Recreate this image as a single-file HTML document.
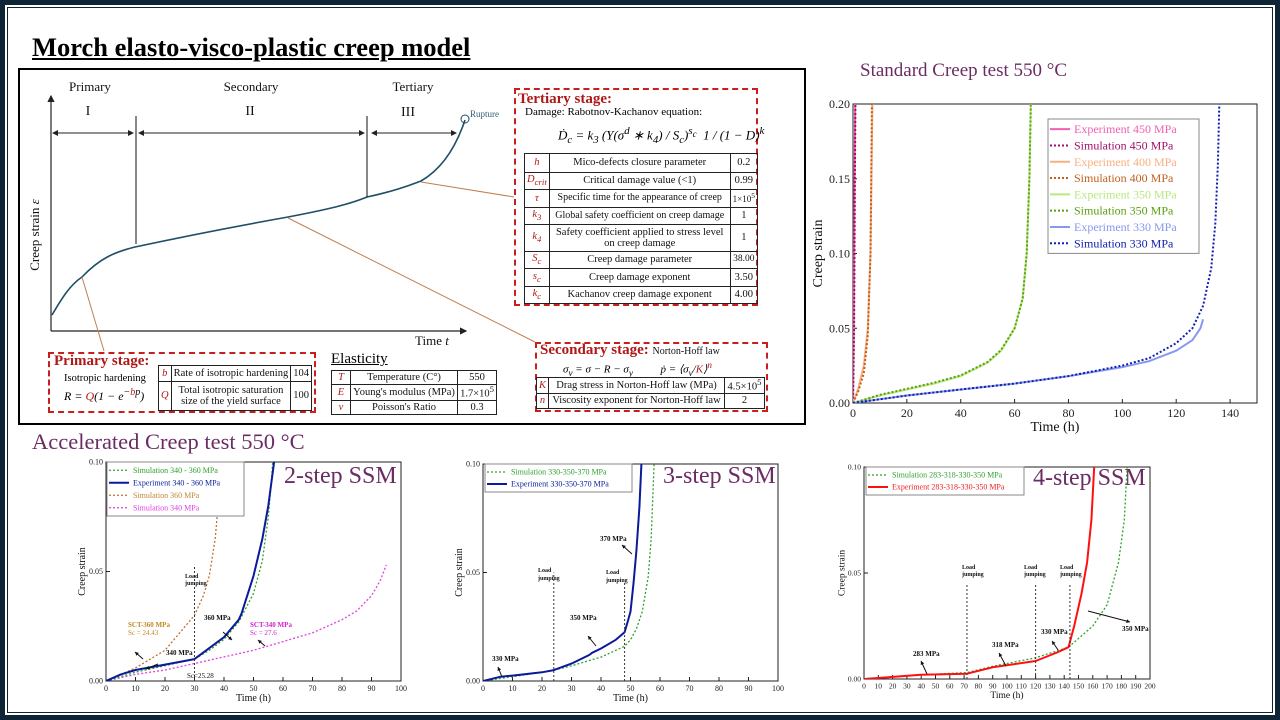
<!DOCTYPE html>
<html><head><meta charset="utf-8">
<style>
*{margin:0;padding:0;box-sizing:border-box}
body{width:1280px;height:720px;overflow:hidden;background:#fff;font-family:"Liberation Serif",serif;position:relative}
.abs{position:absolute}
table{border-collapse:collapse;font-family:"Liberation Serif",serif;font-size:10.5px;color:#111}
td{border:1px solid #222;text-align:center;padding:0 2px;line-height:1.05}
td.s{color:#b01818;font-style:italic}
.dash{border:2.5px dashed #c81e1e}
.rt{color:#b01818;font-weight:bold;font-size:15px}
.ptitle{color:#6b2c63;font-size:19px}
.ssm{color:#6b2c63;font-size:24px}
</style></head>
<body>
<div class="abs" style="left:0;top:0;width:1280px;height:720px;border:5px solid #0d2535"></div>
<div class="abs" style="left:7px;top:7px;width:1266px;height:706px;border:1px solid #0d2535"></div>

<div class="abs" style="left:32px;top:32px;font-size:26.5px;font-weight:bold;text-decoration:underline;color:#000">Morch elasto-visco-plastic creep model</div>
<div class="abs" style="left:18px;top:68px;width:788px;height:357px;border:2px solid #000"></div>

<svg class="abs" style="left:0;top:0" width="1280" height="720">
 <defs><marker id="ah" markerWidth="6" markerHeight="6" refX="5" refY="3" orient="auto"><path d="M0,0L6,3L0,6z" fill="#222"/></marker>
 <marker id="ahs" markerWidth="6" markerHeight="6" refX="1" refY="3" orient="auto"><path d="M6,0L0,3L6,6z" fill="#222"/></marker></defs>
 <g font-family="Liberation Serif" fill="#111">
  <line x1="51" y1="331" x2="51" y2="96" stroke="#222" stroke-width="1.2" marker-end="url(#ah)"/>
  <line x1="51" y1="331" x2="466" y2="331" stroke="#222" stroke-width="1.2" marker-end="url(#ah)"/>
  <path d="M52,315 C62,298 70,285 82,277 C100,258 115,252 135,247 C200,233 260,222 288,217 C330,209 350,204 367,197 C400,190 415,183 421,181 C440,170 455,150 465,120" fill="none" stroke="#1f4e66" stroke-width="1.6"/>
  <circle cx="465" cy="119" r="4" fill="none" stroke="#1f4e66"/>
  <text x="470" y="117" font-size="9" fill="#2f5f75">Rupture</text>
  <line x1="136" y1="116" x2="136" y2="244" stroke="#111"/>
  <line x1="367" y1="116" x2="367" y2="197" stroke="#111"/>
  <line x1="53" y1="133" x2="133" y2="133" stroke="#222" marker-end="url(#ah)" marker-start="url(#ahs)"/>
  <line x1="139" y1="133" x2="364" y2="133" stroke="#222" marker-end="url(#ah)" marker-start="url(#ahs)"/>
  <line x1="372" y1="133" x2="456" y2="133" stroke="#222" marker-end="url(#ah)" marker-start="url(#ahs)"/>
  <text x="90" y="91" font-size="13" text-anchor="middle">Primary</text>
  <text x="88" y="115" font-size="14" text-anchor="middle">I</text>
  <text x="251" y="91" font-size="13" text-anchor="middle">Secondary</text>
  <text x="250" y="115" font-size="14" text-anchor="middle">II</text>
  <text x="413" y="91" font-size="13" text-anchor="middle">Tertiary</text>
  <text x="408" y="116" font-size="14" text-anchor="middle">III</text>
  <text transform="translate(39,235) rotate(-90)" font-size="13" text-anchor="middle">Creep strain <tspan font-style="italic">ε</tspan></text>
  <text x="415" y="345" font-size="13">Time <tspan font-style="italic">t</tspan></text>
  <line x1="82" y1="277" x2="104" y2="351" stroke="#c08050"/>
  <line x1="288" y1="218" x2="535" y2="342" stroke="#c08050"/>
  <line x1="421" y1="182" x2="514" y2="197" stroke="#c08050"/>
 </g>
</svg>

<!-- Tertiary box -->
<div class="abs dash" style="left:514px;top:88px;width:244px;height:218px"></div>
<div class="abs rt" style="left:518px;top:91px">Tertiary stage:</div>
<div class="abs" style="left:525px;top:106px;font-size:11px">Damage: Rabotnov-Kachanov equation:</div>
<div class="abs" style="left:558px;top:125px;font-size:13px;font-style:italic">Ḋ<sub>c</sub> = k<sub>3</sub> (Y(σ<sup>d</sup> ∗ k<sub>4</sub>) / S<sub>c</sub>)<sup>s<sub>c</sub></sup> &nbsp;1 / (1 − D)<sup>k</sup></div>
<table class="abs" style="left:524px;top:153px;width:234px">
<tr style="height:19px"><td class="s" style="width:22px">h</td><td>Mico-defects closure parameter</td><td style="width:23px">0.2</td></tr>
<tr style="height:17px"><td class="s">D<sub>crit</sub></td><td>Critical damage value (&lt;1)</td><td>0.99</td></tr>
<tr style="height:18px"><td class="s">τ</td><td style="font-size:10px">Specific time for the appearance of creep</td><td style="font-size:9px">1×10<sup>5</sup></td></tr>
<tr style="height:17px"><td class="s">k<sub>3</sub></td><td style="font-size:10px">Global safety coefficient on creep damage</td><td>1</td></tr>
<tr style="height:27px"><td class="s">k<sub>4</sub></td><td>Safety coefficient applied to stress level on creep damage</td><td>1</td></tr>
<tr style="height:17px"><td class="s">S<sub>c</sub></td><td>Creep damage parameter</td><td style="font-size:9.5px">38.00</td></tr>
<tr style="height:18px"><td class="s">s<sub>c</sub></td><td>Creep damage exponent</td><td>3.50</td></tr>
<tr style="height:17px"><td class="s">k<sub>c</sub></td><td>Kachanov creep damage exponent</td><td>4.00</td></tr>
</table>

<!-- Primary box -->
<div class="abs dash" style="left:48px;top:352px;width:268px;height:61px"></div>
<div class="abs rt" style="left:54px;top:353px">Primary stage:</div>
<div class="abs" style="left:64px;top:373px;font-size:10.5px">Isotropic hardening</div>
<div class="abs" style="left:64px;top:387px;font-size:12px;font-style:italic">R = <span style="color:#b01818">Q</span>(1 − e<sup>−<span style="color:#b01818">b</span>p</sup>)</div>
<table class="abs" style="left:158px;top:365px;width:154px">
<tr style="height:16px"><td class="s" style="width:11px">b</td><td>Rate of isotropic hardening</td><td style="width:19px">104</td></tr>
<tr style="height:29px"><td class="s">Q</td><td>Total isotropic saturation size of the yield surface</td><td>100</td></tr>
</table>

<div class="abs" style="left:331px;top:351px;font-size:15px;text-decoration:underline">Elasticity</div>
<table class="abs" style="left:331px;top:370px;width:166px">
<tr style="height:14px"><td class="s" style="width:19px">T</td><td>Temperature (C°)</td><td style="width:34px">550</td></tr>
<tr style="height:13px"><td class="s">E</td><td>Young's modulus (MPa)</td><td>1.7×10<sup>5</sup></td></tr>
<tr style="height:14px"><td class="s">ν</td><td>Poisson's Ratio</td><td>0.3</td></tr>
</table>

<!-- Secondary box -->
<div class="abs dash" style="left:535px;top:342px;width:233px;height:70px"></div>
<div class="abs rt" style="left:540px;top:342px">Secondary stage: <span style="color:#111;font-weight:normal;font-size:10px">Norton-Hoff law</span></div>
<div class="abs" style="left:563px;top:360px;font-size:11px;font-style:italic">σ<sub>v</sub> = σ − R − σ<sub>y</sub> &nbsp;&nbsp;&nbsp;&nbsp;&nbsp;&nbsp;&nbsp;&nbsp; ṗ = ⟨σ<sub>v</sub>/<span style="color:#b01818">K</span>⟩<sup><span style="color:#b01818">n</span></sup></div>
<table class="abs" style="left:536px;top:377px;width:229px">
<tr style="height:16px"><td class="s" style="width:8px">K</td><td>Drag stress in Norton-Hoff law (MPa)</td><td style="width:40px">4.5×10<sup>5</sup></td></tr>
<tr style="height:15px"><td class="s">n</td><td>Viscosity exponent for Norton-Hoff law</td><td>2</td></tr>
</table>

<div class="abs ptitle" style="left:860px;top:60px">Standard Creep test 550 °C</div>
<div class="abs ptitle" style="left:32px;top:429px;font-size:22.5px">Accelerated Creep test 550 °C</div>
<div class="abs ssm" style="left:284px;top:463px">2-step SSM</div>
<div class="abs ssm" style="left:663px;top:463px">3-step SSM</div>
<div class="abs ssm" style="left:1033px;top:465px">4-step SSM</div>

<svg id="charts" class="abs" style="left:0;top:0" width="1280" height="720" font-family="Liberation Serif"></svg>

<script>
// ---------- Standard creep chart data ----------
const stdXTicks = [0,20,40,60,80,100,120,140];
const stdYTicks = [0.00,0.05,0.10,0.15,0.20];
const stdNames = ["Experiment 450 MPa","Simulation 450 MPa","Experiment 400 MPa","Simulation 400 MPa","Experiment 350 MPa","Simulation 350 MPa","Experiment 330 MPa","Simulation 330 MPa"];
const e450x=[0,0.3,0.6,0.8], e450y=[0,0.05,0.15,0.2];
const s450x=[0,0.4,0.7,0.9], s450y=[0,0.05,0.15,0.2];
const e400x=[0,2,4,5.5,6.5,7.2], e400y=[0,0.01,0.025,0.05,0.1,0.2];
const s400x=[0,2,4,5.5,6.5,7], s400y=[0,0.008,0.02,0.045,0.1,0.2];
const e350x=[0,10,20,30,40,50,55,60,63,64.5,65.5,66], e350y=[0,0.005,0.009,0.013,0.018,0.027,0.035,0.05,0.07,0.1,0.15,0.2];
const s350x=[0,10,20,30,40,50,55,60,63,64.5,65.5,66], s350y=[0,0.0055,0.0095,0.0135,0.0185,0.0275,0.0355,0.05,0.07,0.1,0.15,0.2];
const e330x=[0,20,40,60,80,100,110,120,126,129,130], e330y=[0,0.005,0.009,0.013,0.018,0.024,0.028,0.035,0.042,0.05,0.056];
const s330x=[0,20,40,60,80,100,110,120,126,130,133,134.5,135.5,136], s330y=[0,0.005,0.009,0.013,0.018,0.025,0.03,0.04,0.05,0.065,0.09,0.12,0.16,0.2];

// ---------- 2-step ----------
const aXTicks=[0,10,20,30,40,50,60,70,80,90,100];
const aYTicks=[0.00,0.05,0.10];
const aSimX=[0,10,20,30,35,40,45,50,53,55,56,56.5], aSimY=[0,0.004,0.007,0.010,0.014,0.019,0.027,0.04,0.055,0.075,0.09,0.1];
const aExpX=[0,5,10,20,30,35,40,45,46,50,53,55,57], aExpY=[0,0.003,0.005,0.0075,0.010,0.015,0.020,0.028,0.031,0.048,0.065,0.08,0.1];
const a360X=[0,10,20,30,33,35,37,38,38.5], a360Y=[0,0.006,0.014,0.030,0.039,0.048,0.065,0.08,0.088];
const a340X=[0,10,20,30,40,50,60,70,80,85,90,93,95], a340Y=[0,0.003,0.005,0.008,0.011,0.014,0.018,0.022,0.028,0.032,0.039,0.046,0.053];

// ---------- 3-step ----------
const bXTicks=[0,10,20,30,40,50,60,70,80,90,100];
const bYTicks=[0.00,0.05,0.10];
const bSimX=[0,10,20,24,30,40,48,50,52,54,56,57,58], bSimY=[0,0.002,0.004,0.005,0.007,0.011,0.016,0.019,0.024,0.032,0.048,0.065,0.1];
const bExpX=[0,6,10,20,24,30,36,37,40,45,48,49,50,51,52,53,53.7], bExpY=[0,0.002,0.0025,0.004,0.005,0.008,0.012,0.013,0.015,0.019,0.0225,0.027,0.032,0.045,0.06,0.08,0.1];

// ---------- 4-step ----------
const cXTicks=[0,10,20,30,40,50,60,70,80,90,100,110,120,130,140,150,160,170,180,190,200];
const cYTicks=[0.00,0.05,0.10];
const cSimX=[0,20,40,72,90,120,143,160,170,178,182,184], cSimY=[0,0.001,0.002,0.003,0.006,0.010,0.015,0.025,0.035,0.055,0.075,0.1];
const cExpX=[0,20,40,72,90,120,135,143,147,152,156,159,161], cExpY=[0,0.001,0.002,0.0025,0.0055,0.0085,0.0125,0.015,0.025,0.04,0.055,0.075,0.1];

const NS="http://www.w3.org/2000/svg";
const svg=document.getElementById('charts');
function mk(tag,attrs,parent){const e=document.createElementNS(NS,tag);for(const k in attrs)e.setAttribute(k,attrs[k]);(parent||svg).appendChild(e);return e;}
let clipN=0;
function axes(cfg){
  const g=mk('g',{});
  
  
  const sx=v=>cfg.x0+(v-cfg.xmin)/(cfg.xmax-cfg.xmin)*(cfg.x1-cfg.x0);
  const sy=v=>cfg.y0-(v-cfg.ymin)/(cfg.ymax-cfg.ymin)*(cfg.y0-cfg.y1);
  const fr=mk('rect',{x:cfg.x0,y:cfg.y1,width:cfg.x1-cfg.x0,height:cfg.y0-cfg.y1,fill:'none',stroke:'#222','stroke-width':1},g);
  
  
  cfg.xt.forEach(t=>{mk('line',{x1:sx(t),x2:sx(t),y1:cfg.y0,y2:cfg.y0-4,stroke:'#222'},g);
    const tx=mk('text',{x:sx(t),y:cfg.y0+cfg.fs+2,'font-size':cfg.fs,'text-anchor':'middle',fill:'#222'},g);tx.textContent=t;
    
    });
  cfg.yt.forEach(t=>{mk('line',{x1:cfg.x0,x2:cfg.x0+4,y1:sy(t),y2:sy(t),stroke:'#222'},g);
    const tx=mk('text',{x:cfg.x0-3,y:sy(t)+cfg.fs/3,'font-size':cfg.fs,'text-anchor':'end',fill:'#222'},g);tx.textContent=t.toFixed(2);
    
    });
  const xl=mk('text',{x:(cfg.x0+cfg.x1)/2,y:cfg.y0+cfg.fs*2+4,'font-size':cfg.fs+2,'text-anchor':'middle',fill:'#111'},g);xl.textContent='Time (h)';
  
  
  const yl=mk('text',{transform:`translate(${cfg.x0-cfg.fs*2.6},${(cfg.y0+cfg.y1)/2}) rotate(-90)`,'font-size':cfg.fs+2,'text-anchor':'middle',fill:'#111'},g);yl.textContent='Creep strain';
  
  
  const id='cl'+(clipN++);
  const cp=mk('clipPath',{id:id},g);mk('rect',{x:cfg.x0,y:cfg.y1,width:cfg.x1-cfg.x0,height:cfg.y0-cfg.y1},cp);
  const pg=mk('g',{'clip-path':`url(#${id})`},g);
  return {g,pg,sx,sy};
}
function series(ax,xs,ys,color,w,dash,name){
  const d=xs.map((x,i)=>(i?'L':'M')+ax.sx(x).toFixed(1)+','+ax.sy(ys[i]).toFixed(1)).join('');
  const p=mk('path',{d:d,fill:'none',stroke:color,'stroke-width':w,'stroke-dasharray':dash||'none','stroke-linejoin':'round'},ax.pg);
  
  
}
function legend(x,y,w,rowH,items,fs,name){
  const g=mk('g',{});
  
  
  mk('rect',{x:x,y:y,width:w,height:rowH*items.length+4,fill:'#fff',stroke:'#888'},g);
  items.forEach((it,i)=>{const cy=y+2+rowH*(i+0.5);
    mk('line',{x1:x+2,x2:x+22,y1:cy,y2:cy,stroke:it[1],'stroke-width':it[2],'stroke-dasharray':it[3]||'none'},g);
    const t=mk('text',{x:x+26,y:cy+fs/3,'font-size':fs,fill:it[4]||it[1]},g);t.textContent=it[0];
    
    });
}
function vdash(ax,xv,ytop){mk('line',{x1:ax.sx(xv),x2:ax.sx(xv),y1:ax.sy(0),y2:ax.sy(ytop),stroke:'#333','stroke-dasharray':'2,2'},ax.g);}
function note(x,y,txt,fs,color,anchor){const t=mk('text',{x:x,y:y,'font-size':fs,'font-weight':'bold',fill:color||'#111','text-anchor':anchor||'start'});t.textContent=txt;
  
  return t;}
function arrow(x1,y1,x2,y2){mk('line',{x1:x1,y1:y1,x2:x2,y2:y2,stroke:'#111','stroke-width':1});
  const a=Math.atan2(y2-y1,x2-x1),L=4;
  mk('path',{d:`M${x2},${y2}L${x2-L*Math.cos(a-0.5)},${y2-L*Math.sin(a-0.5)}L${x2-L*Math.cos(a+0.5)},${y2-L*Math.sin(a+0.5)}z`,fill:'#111'});}

// Standard chart
const S=axes({name:'standard-creep-chart',x0:853,x1:1257,y0:403,y1:104,xmin:0,xmax:150,ymin:0,ymax:0.2,xt:stdXTicks,yt:stdYTicks,fs:12});
const stdCol=['#f060b0','#a0106a','#f8b080','#c06020','#b8e880','#5aa010','#8898f0','#1020b0'];
series(S,e450x,e450y,stdCol[0],2,null,'experiment-450-line');
series(S,s450x,s450y,stdCol[1],2,'2,2','simulation-450-line');
series(S,e400x,e400y,stdCol[2],2,null,'experiment-400-line');
series(S,s400x,s400y,stdCol[3],2,'2,2','simulation-400-line');
series(S,e350x,e350y,stdCol[4],2,null,'experiment-350-line');
series(S,s350x,s350y,stdCol[5],2,'2,2','simulation-350-line');
series(S,e330x,e330y,stdCol[6],2,null,'experiment-330-line');
series(S,s330x,s330y,stdCol[7],2,'2,2','simulation-330-line');
legend(1048,119,151,16.3,stdNames.map((n,i)=>[n,stdCol[i],2,i%2?'2,2':null]),12,'standard-legend');

// 2-step
const A=axes({name:'two-step-chart',x0:106,x1:401,y0:681,y1:462,xmin:0,xmax:100,ymin:0,ymax:0.1,xt:aXTicks,yt:aYTicks,fs:8});
vdash(A,30,0.053);
series(A,a360X,a360Y,'#c07030',1.3,'2,2','simulation-360-line');
series(A,a340X,a340Y,'#e040e0',1.3,'2,2','simulation-340-line');
series(A,aSimX,aSimY,'#30a030',1.3,'2,2','simulation-340-360-line');
series(A,aExpX,aExpY,'#0a1a9a',2,null,'experiment-340-360-line');
legend(107,462,137,12.5,[['Simulation 340 - 360 MPa','#30a030',1.3,'2,2'],['Experiment 340 - 360 MPa','#0a1a9a',2,null],['Simulation 360 MPa','#c07030',1.3,'2,2','#c08830'],['Simulation 340 MPa','#e040e0',1.3,'2,2']],8,'two-step-legend');
note(185,578,'Load',6);note(185,585,'jumping',6);
note(128,627,'SCT-360 MPa',7,'#c08820');note(128,635,'Sc = 24.43',7,'#c08820').setAttribute('font-weight','normal');
note(250,627,'SCT-340 MPa',7,'#d020d0');note(250,635,'Sc = 27.6',7,'#d020d0').setAttribute('font-weight','normal');
note(204,620,'360 MPa',7);note(166,655,'340 MPa',7);
note(187,678,'Sc=25.28',7).setAttribute('font-weight','normal');
arrow(223,632,232,640);arrow(158,664,146,669);arrow(143,659,135,652);arrow(265,646,258,640);

// 3-step
const B=axes({name:'three-step-chart',x0:483,x1:778,y0:681,y1:464,xmin:0,xmax:100,ymin:0,ymax:0.1,xt:bXTicks,yt:bYTicks,fs:8});
vdash(B,24,0.050);vdash(B,48,0.046);
series(B,bSimX,bSimY,'#30a030',1.3,'2,2','simulation-330-350-370-line');
series(B,bExpX,bExpY,'#0a1a9a',2,null,'experiment-330-350-370-line');
legend(485,464,147,12,[['Simulation 330-350-370 MPa','#30a030',1.3,'2,2'],['Experiment 330-350-370 MPa','#0a1a9a',2,null]],8,'three-step-legend');
note(538,572,'Load',6);note(538,580,'jumping',6);note(606,574,'Load',6);note(606,582,'jumping',6);
note(492,661,'330 MPa',7);note(570,620,'350 MPa',7);note(600,541,'370 MPa',7);
arrow(502,677,498,667);arrow(596,646,588,636);arrow(632,554,622,545);

// 4-step
const C=axes({name:'four-step-chart',x0:864,x1:1150,y0:679,y1:467,xmin:0,xmax:200,ymin:0,ymax:0.1,xt:cXTicks,yt:cYTicks,fs:7.5});
vdash(C,72,0.045);vdash(C,120,0.045);vdash(C,144,0.045);
series(C,cSimX,cSimY,'#30a030',1.3,'2,2','simulation-283-350-line');
series(C,cExpX,cExpY,'#ff1010',2,null,'experiment-283-350-line');
legend(866,467,158,12,[['Simulation 283-318-330-350 MPa','#30a030',1.3,'2,2'],['Experiment 283-318-330-350 MPa','#ff1010',2,null,'#ee2020']],8,'four-step-legend');
note(962,569,'Load',6);note(962,576,'jumping',6);note(1024,569,'Load',6);note(1024,576,'jumping',6);note(1060,569,'Load',6);note(1060,576,'jumping',6);
note(913,656,'283 MPa',7);note(992,647,'318 MPa',7);note(1041,634,'330 MPa',7);note(1122,631,'350 MPa',7);
arrow(927,674,921,661);arrow(1006,666,999,653);arrow(1058,650,1052,641);arrow(1088,611,1130,622);
</script>
</body></html>
